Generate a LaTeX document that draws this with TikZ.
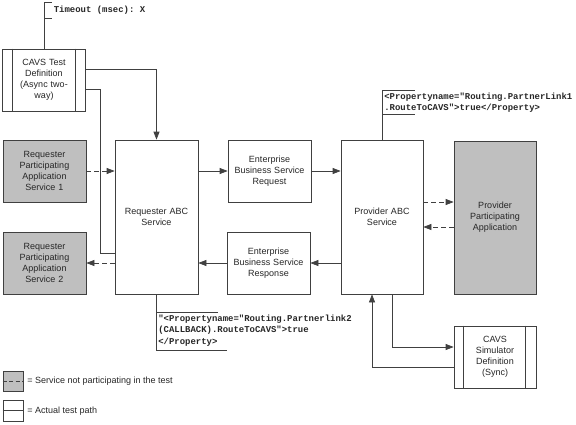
\documentclass[tikz,border=0pt]{standalone}
\usepackage{fontspec}
\setmainfont{Liberation Sans}
\setmonofont{Liberation Mono}
\usetikzlibrary{arrows.meta,calc}
\begin{document}
\begin{tikzpicture}[x=1pt,y=-1pt,
  line width=0.7pt,
  box/.style={draw=black!75, fill=white, minimum width=83pt, minimum height=62pt, inner sep=2pt,
    align=center, text width=76pt, font=\fontsize{9}{11}\selectfont, text=black!85},
  gbox/.style={box, fill=black!25},
  arr/.style={draw=black!75, -{Triangle[length=8pt,width=6pt]}},
  darr/.style={arr, dash pattern=on 5pt off 3pt},
  ln/.style={draw=black!75},
  ann/.style={anchor=west, align=left, inner sep=0pt, font=\ttfamily\bfseries\fontsize{8.95}{11.5}\selectfont, text=black!85},
  leg/.style={anchor=west, inner sep=0pt, font=\fontsize{9}{11}\selectfont, text=black!85}
]
\useasboundingbox (0,0) rectangle (576,424);

% main boxes
\node[box] (ctd) at (44,80) {CAVS Test\\ Definition\\ (Async two-\\ way)};
\draw[ln] ([xshift=10pt]ctd.north west) -- ([xshift=10pt]ctd.south west);
\draw[ln] ([xshift=-11pt]ctd.north east) -- ([xshift=-11pt]ctd.south east);

\node[gbox] (rpas1) at (44.5,171) {Requester\\ Participating\\ Application\\ Service 1};
\node[gbox] (rpas2) at (44.5,263) {Requester\\ Participating\\ Application\\ Service 2};
\node[box, minimum height=154pt] (rabc) at (156.5,217) {Requester ABC\\ Service};
\node[box] (ebsreq) at (269.5,171) {Enterprise\\ Business Service\\ Request};
\node[box] (ebsresp) at (268.5,263) {Enterprise\\ Business Service\\ Response};
\node[box, minimum width=82pt, minimum height=154pt] (pabc) at (382,217) {Provider ABC\\ Service};
\node[gbox, minimum width=82pt, minimum height=153pt] (ppa) at (495,217.5) {Provider\\ Participating\\ Application};
\node[box, minimum width=82pt] (csim) at (495,357) {CAVS\\ Simulator\\ Definition\\ (Sync)};
\draw[ln] ([xshift=10pt]csim.north west) -- ([xshift=10pt]csim.south west);
\draw[ln] ([xshift=-11pt]csim.north east) -- ([xshift=-11pt]csim.south east);

% connectors
\draw[arr] ([yshift=11pt]ctd.east) -| (rabc.north);
\draw[ln] ([yshift=-9pt]ctd.east) -| (100,253) -- (rabc.west |- 100,253);
\draw[darr] (rpas1.east) -- (rabc.west |- rpas1.east);
\draw[darr] (rabc.west |- rpas2.east) -- (rpas2.east);
\draw[arr] (rabc.east |- ebsreq.west) -- (ebsreq.west);
\draw[arr] (ebsreq.east) -- (pabc.west |- ebsreq.east);
\draw[arr] (pabc.west |- ebsresp.east) -- (ebsresp.east);
\draw[arr] (ebsresp.west) -- (rabc.east |- ebsresp.west);
\draw[darr] ([yshift=15pt]pabc.east) -- ([yshift=15.5pt]ppa.west);
\draw[darr] ([yshift=-9.5pt]ppa.west) -- ([yshift=-10pt]pabc.east);
\draw[arr] ([xshift=10pt]pabc.south) |- ([yshift=10pt]csim.west);
\draw[arr] ([yshift=-10pt]csim.west) -| ([xshift=-10pt]pabc.south);

% annotations
\node[ann] (tmo) at (53.5,10) {Timeout (msec): X};
\draw[ln] (ctd.north) -- (ctd.north |- 0,2) -- (52,2);
\draw[ln] (ctd.north |- 0,18) -- (52,18);

\node[ann] (pann) at (384,102.5) {<Propertyname="Routing.PartnerLink1\\ .RouteToCAVS">true</Property>};
\draw[ln] (pabc.north) -- (pabc.north |- 0,90) -- (415,90);
\draw[ln] (pabc.north |- 0,114) -- (415,114);

\node[ann] (rann) at (158,330.5) {"<Propertyname="Routing.Partnerlink2\\ (CALLBACK).RouteToCAVS">true\\ </Property>};
\draw[ln] (rabc.south) -- (rabc.south |- 0,350) -- (227,350);
\draw[ln] (rabc.south |- 0,312) -- (218,312);

% legend
\node[draw=black!75, fill=black!25, minimum width=20pt, minimum height=20pt, inner sep=0pt] (lg1) at (13,381) {};
\draw[ln, dash pattern=on 4pt off 2.5pt] (lg1.west) -- (lg1.east);
\node[leg] (lt1) at (27,381) {= Service not participating in the test};
\node[draw=black!75, fill=white, minimum width=20pt, minimum height=21pt, inner sep=0pt] (lg2) at (13,410.5) {};
\draw[ln] (lg2.west) -- (lg2.east);
\node[leg] (lt2) at (27,411) {= Actual test path};
\end{tikzpicture}
\end{document}
